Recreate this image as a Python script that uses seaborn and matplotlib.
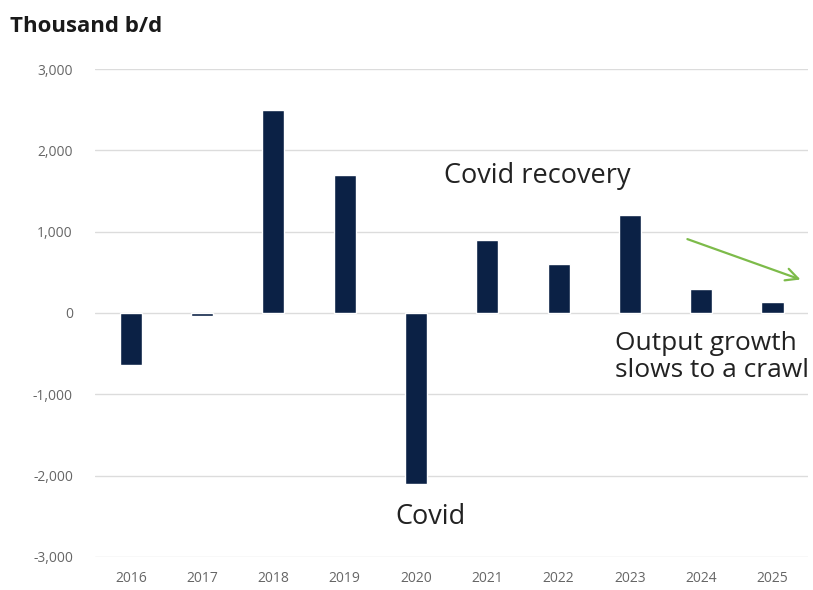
import matplotlib
matplotlib.use("Agg")
import matplotlib.pyplot as plt
import seaborn as sns
import pandas as pd

# data (thousand b/d)
years = ["2016", "2017", "2018", "2019", "2020", "2021", "2022", "2023", "2024", "2025"]
growth = [-640, -40, 2500, 1700, -2100, 900, 600, 1200, 300, 140]
yticks = [-3000, -2000, -1000, 0, 1000, 2000, 3000]

df = pd.DataFrame({"year": years, "growth": growth})

sns.set_style("white")
plt.rcParams["font.family"] = ["Open Sans", "DejaVu Sans"]

fig = plt.figure(figsize=(8.13, 5.9), dpi=100)
ax = fig.add_axes([0.117, 0.056, 0.877, 0.827])

sns.barplot(data=df, x="year", y="growth", color="#0b2145", width=0.31,
            saturation=1, ax=ax, zorder=3)

ax.set_ylim(-3000, 3000)
ax.set_xlim(-0.5, 9.5)
ax.set_yticks(yticks)
ax.set_yticklabels([f"{v:,}" for v in yticks])
ax.yaxis.grid(True, color="#dcdcdc", lw=1)
ax.set_axisbelow(True)
for s in ax.spines.values():
    s.set_visible(False)
ax.tick_params(axis="both", length=0, labelsize=10, colors="#666666")
ax.tick_params(axis="x", pad=10)
ax.tick_params(axis="y", pad=16)
ax.set_xlabel("")
ax.set_ylabel("")

fig.text(0.012, 0.955, "Thousand b/d", fontsize=16, fontweight="bold",
         color="#1a1a1a", va="center", ha="left")

ax.text(5.7, 1690, "Covid recovery", fontsize=19.5, ha="center", va="center", color="#222222")
ax.text(4.2, -2510, "Covid", fontsize=19.5, ha="center", va="center", color="#222222")
ax.text(6.79, -540, "Output growth\nslows to a crawl", fontsize=19, ha="left",
        va="center", color="#222222", linespacing=1.12, clip_on=False)

ax.annotate("", xy=(9.43, 400), xytext=(7.77, 920),
            arrowprops=dict(arrowstyle="->", color="#7dbb4a", lw=1.6,
                            mutation_scale=22), annotation_clip=False)

fig.savefig("out.png", dpi=100)
